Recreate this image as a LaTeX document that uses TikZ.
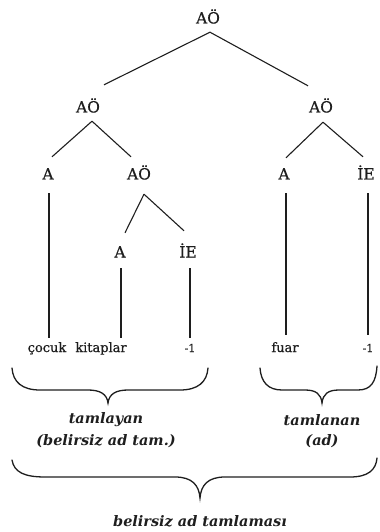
\documentclass[tikz,border=0pt]{standalone}
\usepackage{fontspec}
\newfontfamily\treefont{DejaVu Serif}[FakeBold=0.6]
\newfontfamily\labfont{DejaVu Serif}
\definecolor{ink}{HTML}{1E1E1E}
\begin{document}
\begin{tikzpicture}[x=1bp,y=-1bp,
  cat/.style={font=\treefont\fontsize{15.5}{17}\selectfont, text=ink, inner sep=0pt, text height=11bp, text depth=0pt},
  word/.style={font=\treefont\fontsize{13}{15}\selectfont, text=ink, inner sep=0pt, text height=10bp, text depth=3bp, anchor=base},
  suf/.style={font=\treefont\fontsize{11}{13}\selectfont, text=ink, inner sep=0pt, text height=10bp, text depth=3bp, anchor=base},
  lab/.style={font=\labfont\bfseries\itshape\fontsize{14.5}{16}\selectfont, text=ink, inner sep=0pt},
  edge/.style={draw=ink, line width=1.1bp},
  brace/.style={draw=ink, line width=1.3bp, line cap=round}]
\useasboundingbox (0,0) rectangle (379,532);
% categories
\node[cat] (root) at (208,18) {AÖ};
\node[cat] (l) at (88,107) {AÖ};
\node[cat] (r) at (321,107) {AÖ};
\node[cat] (la) at (48,174) {A};
\node[cat] (lao) at (139,174) {AÖ};
\node[cat] (ra) at (284,174) {A};
\node[cat] (rie) at (366,174) {İE};
\node[cat] (ka) at (120,252) {A};
\node[cat] (kie) at (188,252) {İE};
% words
\node[word] (w1) at (47,352) {çocuk};
\node[word] (w2) at (101,352) {kitaplar};
\node[suf] (w3) at (190,352) {-1};
\node[word] (w4) at (285,352) {fuar};
\node[suf] (w5) at (368,352) {-1};
% tree edges
\draw[edge] ([xshift=2bp,yshift=-8.5bp]root.south) -- ([xshift=16bp,yshift=16.5bp]l.north);
\draw[edge] ([xshift=2bp,yshift=-8.5bp]root.south) -- ([xshift=-13bp,yshift=15.5bp]r.north);
\draw[edge] ([xshift=4bp,yshift=-8.5bp]l.south) -- ([xshift=4bp,yshift=11.5bp]la.north);
\draw[edge] ([xshift=4bp,yshift=-8.5bp]l.south) -- ([xshift=-8bp,yshift=11.5bp]lao.north);
\draw[edge] ([xshift=2bp,yshift=-9.5bp]r.south) -- ([xshift=2bp,yshift=10.5bp]ra.north);
\draw[edge] ([xshift=2bp,yshift=-9.5bp]r.south) -- ([xshift=-3bp,yshift=11.5bp]rie.north);
\draw[edge] ([xshift=5bp,yshift=-14.5bp]lao.south) -- ([xshift=5bp,yshift=13.5bp]ka.north);
\draw[edge] ([xshift=5bp,yshift=-14.5bp]lao.south) -- ([xshift=-4bp,yshift=15.5bp]kie.north);
% vertical edges
\draw[edge] ([xshift=1bp,yshift=-13.5bp]la.south) -- ([xshift=1bp,yshift=4bp]la.south |- w1.north);
\draw[edge] ([xshift=1bp,yshift=-10.5bp]ka.south) -- ([xshift=1bp,yshift=4bp]ka.south |- w2.north);
\draw[edge] ([xshift=2bp,yshift=-10.5bp]kie.south) -- ([xshift=2bp,yshift=4bp]kie.south |- w3.north);
\draw[edge] ([xshift=2bp,yshift=-13.5bp]ra.south) -- ([xshift=2bp,yshift=7bp]ra.south |- w4.north);
\draw[edge] ([xshift=2bp,yshift=-13.5bp]rie.south) -- ([xshift=2bp,yshift=7bp]rie.south |- w5.north);
% braces
\draw[brace] (12,368) .. controls (13,382) and (22,390) .. (40,390) -- (88,390)
  .. controls (100,390) and (107,394) .. (108,403)
  .. controls (109,394) and (116,390) .. (128,390) -- (180,390)
  .. controls (198,390) and (207,382) .. (208,368);
\draw[brace] (260,368) .. controls (261,382) and (268,390) .. (282,390) -- (305,390)
  .. controls (316,390) and (321,394) .. (322,403)
  .. controls (323,394) and (328,390) .. (339,390) -- (358,390)
  .. controls (371,390) and (376,382) .. (377,366);
\draw[brace] (12,460) .. controls (14,472) and (24,477) .. (45,477) -- (175,477)
  .. controls (192,477) and (199,485) .. (200,498)
  .. controls (201,485) and (208,477) .. (225,477) -- (350,477)
  .. controls (368,477) and (376,470) .. (377,458);
% labels
\node[lab] (t1) at (106,420) {tamlayan};
\node[lab] (t2) at (106,441) {(belirsiz ad tam.)};
\node[lab] (t3) at (322,420) {tamlanan};
\node[lab] (t4) at (322,441) {(ad)};
\node[lab] (t5) at (200,521) {belirsiz ad tamlaması};
\end{tikzpicture}
\end{document}
